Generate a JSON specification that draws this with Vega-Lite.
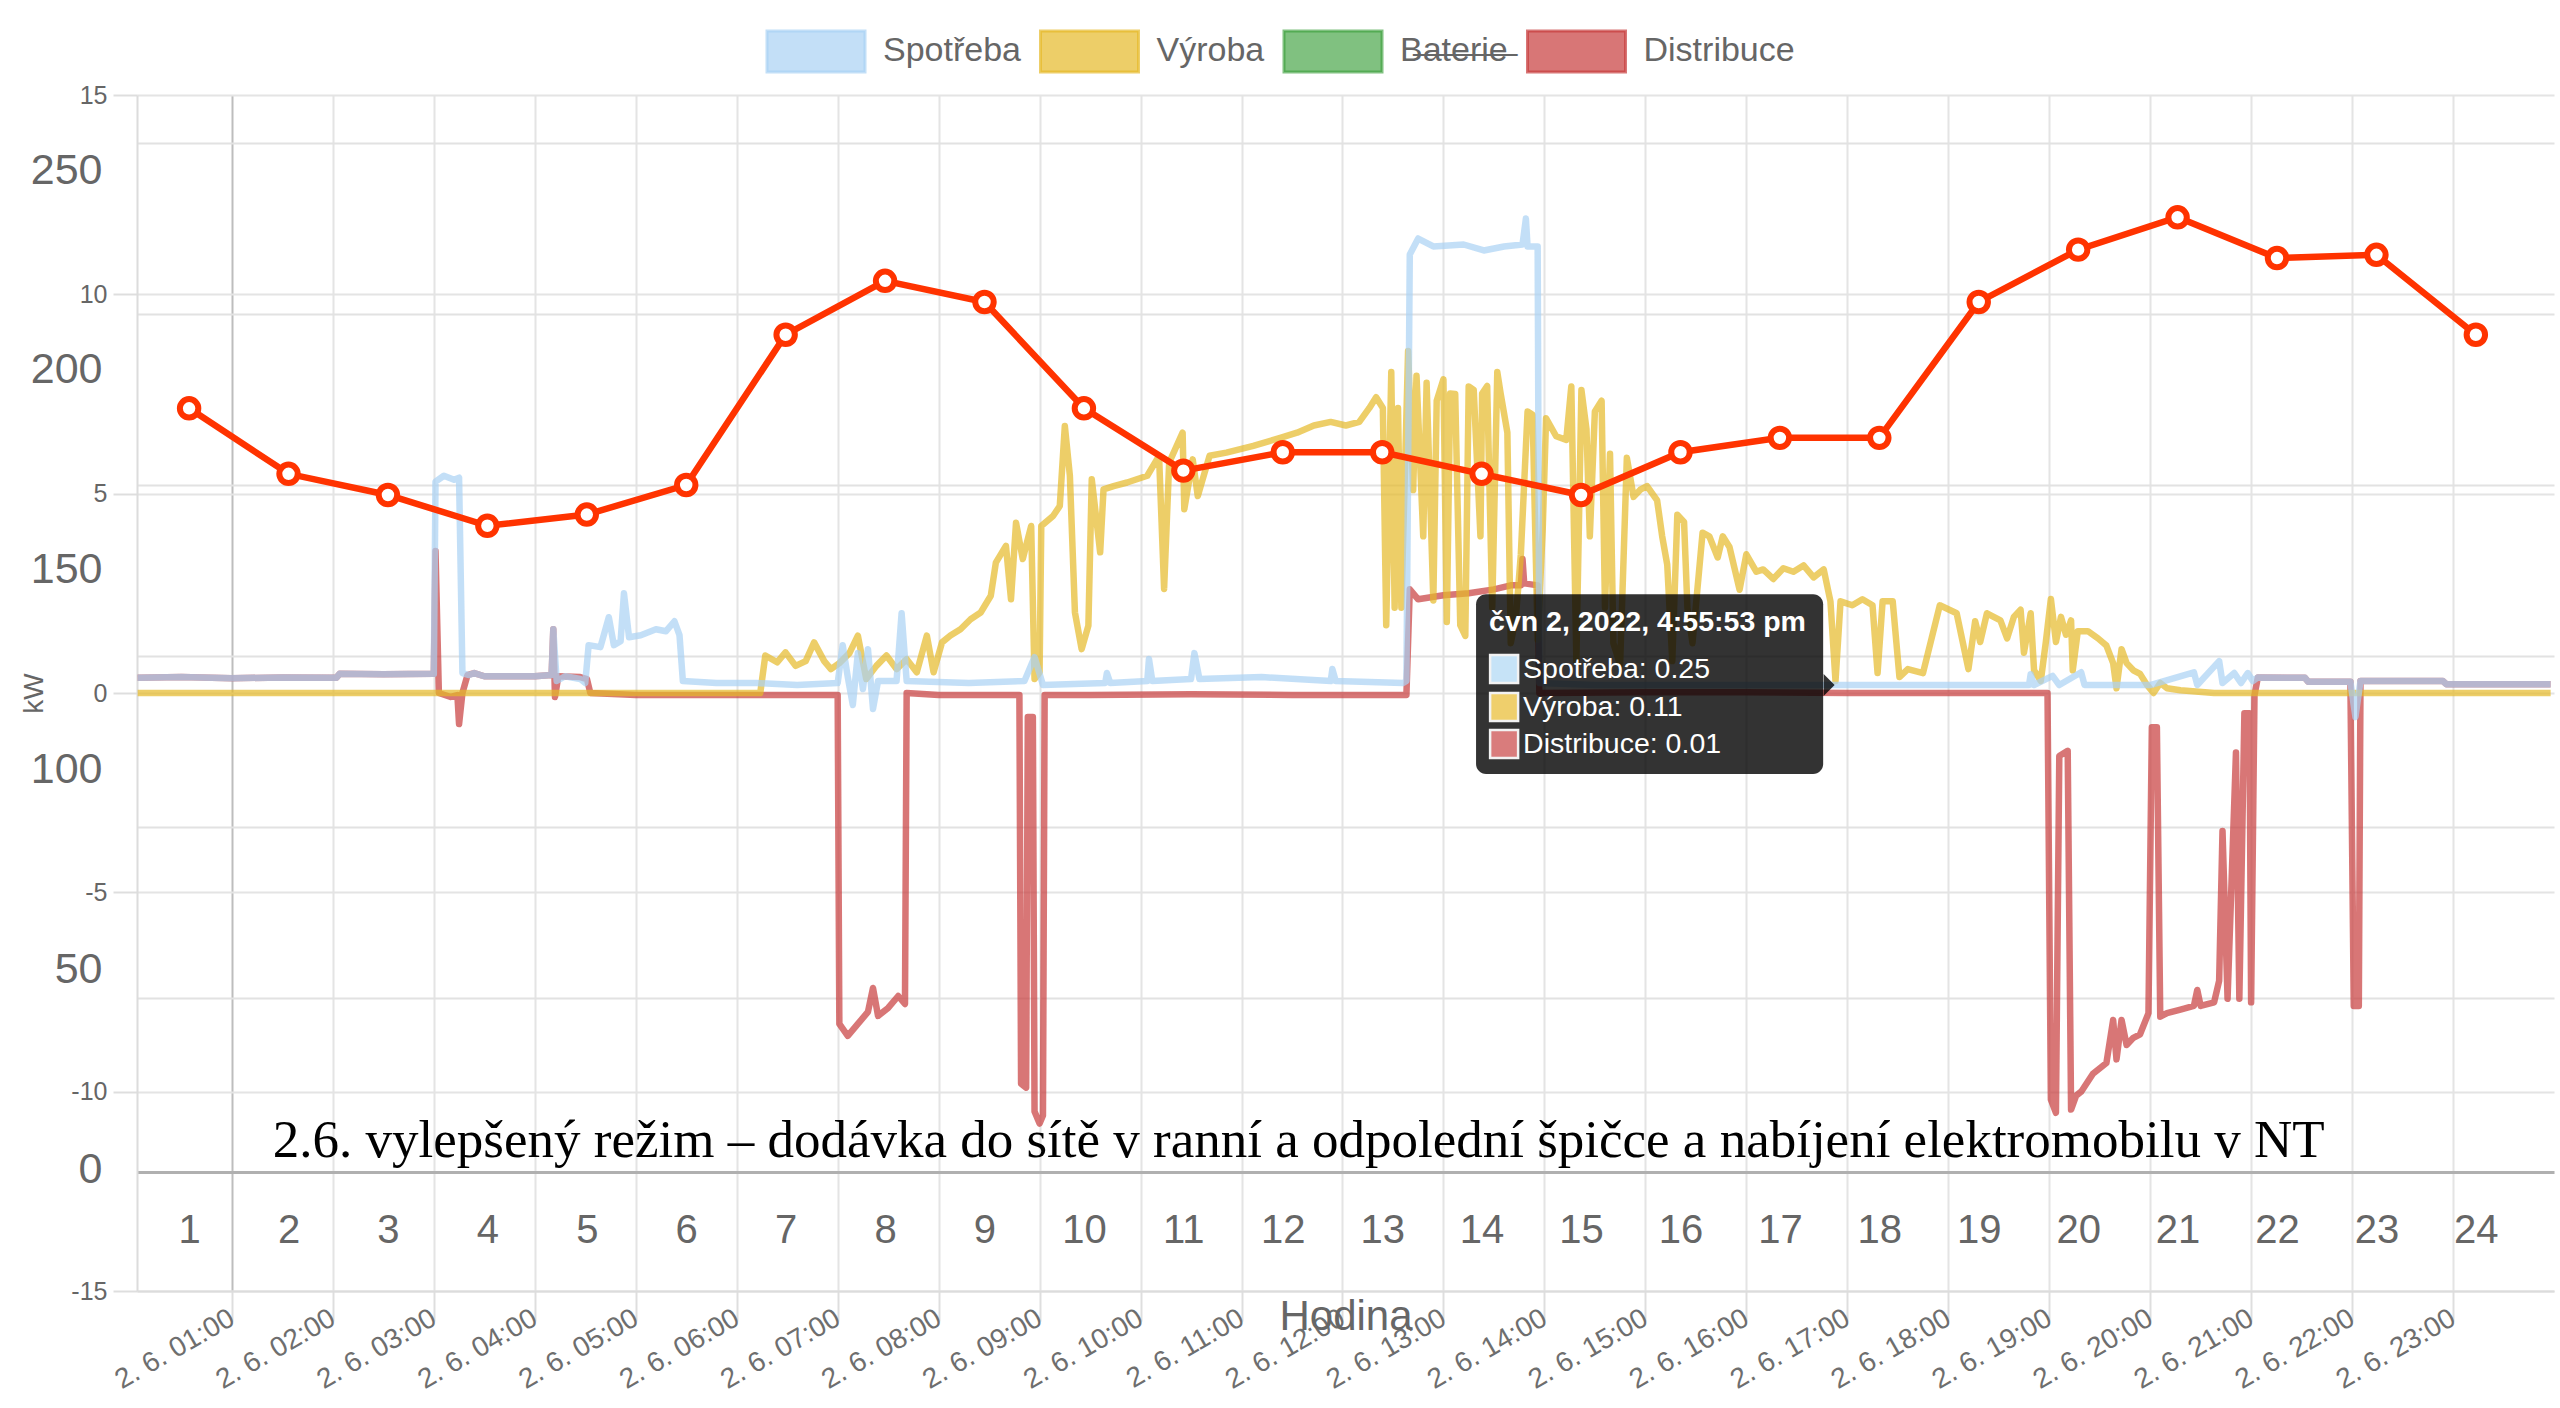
{
  "$schema": "https://vega.github.io/schema/vega-lite/v6.json",
  "width": 2417,
  "height": 1196,
  "autosize": {"type": "none"},
  "padding": {"left": 137, "top": 95, "right": 6, "bottom": 117},
  "background": "white",
  "config": {
    "view": {"stroke": null},
    "font": "Liberation Sans",
    "axis": {"labelFont": "Liberation Sans", "titleFont": "Liberation Sans"},
    "legend": {"labelFont": "Liberation Sans"}
  },
  "datasets": {
    "spotreba": [
      {"t": "2022-06-02T00:04", "kW": 0.38}, {"t": "2022-06-02T00:30", "kW": 0.40}, {"t": "2022-06-02T01:00", "kW": 0.37},
      {"t": "2022-06-02T01:30", "kW": 0.39}, {"t": "2022-06-02T02:02", "kW": 0.38}, {"t": "2022-06-02T02:04", "kW": 0.48},
      {"t": "2022-06-02T02:30", "kW": 0.47}, {"t": "2022-06-02T03:00", "kW": 0.48}, {"t": "2022-06-02T03:01", "kW": 5.3},
      {"t": "2022-06-02T03:06", "kW": 5.45}, {"t": "2022-06-02T03:12", "kW": 5.35}, {"t": "2022-06-02T03:15", "kW": 5.4},
      {"t": "2022-06-02T03:17", "kW": 0.5}, {"t": "2022-06-02T03:21", "kW": 0.45}, {"t": "2022-06-02T03:24", "kW": 0.5},
      {"t": "2022-06-02T03:30", "kW": 0.42}, {"t": "2022-06-02T04:00", "kW": 0.42}, {"t": "2022-06-02T04:10", "kW": 0.45},
      {"t": "2022-06-02T04:11", "kW": 1.6}, {"t": "2022-06-02T04:13", "kW": 0.3}, {"t": "2022-06-02T04:18", "kW": 0.42},
      {"t": "2022-06-02T04:27", "kW": 0.35}, {"t": "2022-06-02T04:30", "kW": 0.25}, {"t": "2022-06-02T04:32", "kW": 1.2},
      {"t": "2022-06-02T04:39", "kW": 1.15}, {"t": "2022-06-02T04:44", "kW": 1.9}, {"t": "2022-06-02T04:47", "kW": 1.2},
      {"t": "2022-06-02T04:51", "kW": 1.3}, {"t": "2022-06-02T04:53", "kW": 2.5}, {"t": "2022-06-02T04:56", "kW": 1.4},
      {"t": "2022-06-02T05:03", "kW": 1.45}, {"t": "2022-06-02T05:12", "kW": 1.6}, {"t": "2022-06-02T05:18", "kW": 1.55},
      {"t": "2022-06-02T05:23", "kW": 1.8}, {"t": "2022-06-02T05:26", "kW": 1.45}, {"t": "2022-06-02T05:28", "kW": 0.3},
      {"t": "2022-06-02T05:48", "kW": 0.25}, {"t": "2022-06-02T06:12", "kW": 0.25}, {"t": "2022-06-02T06:36", "kW": 0.2},
      {"t": "2022-06-02T07:00", "kW": 0.25}, {"t": "2022-06-02T07:03", "kW": 1.2}, {"t": "2022-06-02T07:06", "kW": 0.4},
      {"t": "2022-06-02T07:09", "kW": -0.3}, {"t": "2022-06-02T07:12", "kW": 1.0}, {"t": "2022-06-02T07:15", "kW": 0.1},
      {"t": "2022-06-02T07:18", "kW": 1.1}, {"t": "2022-06-02T07:21", "kW": -0.4}, {"t": "2022-06-02T07:24", "kW": 0.3},
      {"t": "2022-06-02T07:35", "kW": 0.3}, {"t": "2022-06-02T07:38", "kW": 2.0}, {"t": "2022-06-02T07:41", "kW": 0.3},
      {"t": "2022-06-02T08:18", "kW": 0.25}, {"t": "2022-06-02T08:51", "kW": 0.3}, {"t": "2022-06-02T08:54", "kW": 0.6},
      {"t": "2022-06-02T08:57", "kW": 0.9}, {"t": "2022-06-02T09:02", "kW": 0.2}, {"t": "2022-06-02T09:39", "kW": 0.25},
      {"t": "2022-06-02T09:40", "kW": 0.5}, {"t": "2022-06-02T09:42", "kW": 0.25}, {"t": "2022-06-02T10:04", "kW": 0.3},
      {"t": "2022-06-02T10:05", "kW": 0.85}, {"t": "2022-06-02T10:07", "kW": 0.3}, {"t": "2022-06-02T10:30", "kW": 0.35},
      {"t": "2022-06-02T10:32", "kW": 1.0}, {"t": "2022-06-02T10:35", "kW": 0.35}, {"t": "2022-06-02T11:12", "kW": 0.4},
      {"t": "2022-06-02T11:53", "kW": 0.3}, {"t": "2022-06-02T11:54", "kW": 0.6}, {"t": "2022-06-02T11:56", "kW": 0.3},
      {"t": "2022-06-02T12:36", "kW": 0.25}, {"t": "2022-06-02T12:38", "kW": 0.3}, {"t": "2022-06-02T12:40", "kW": 11.0},
      {"t": "2022-06-02T12:45", "kW": 11.4}, {"t": "2022-06-02T12:54", "kW": 11.2}, {"t": "2022-06-02T13:12", "kW": 11.25},
      {"t": "2022-06-02T13:24", "kW": 11.1}, {"t": "2022-06-02T13:36", "kW": 11.2}, {"t": "2022-06-02T13:47", "kW": 11.25},
      {"t": "2022-06-02T13:49", "kW": 11.9}, {"t": "2022-06-02T13:50", "kW": 11.2}, {"t": "2022-06-02T13:56", "kW": 11.2},
      {"t": "2022-06-02T13:57", "kW": 0.25}, {"t": "2022-06-02T14:30", "kW": 0.2}, {"t": "2022-06-02T16:00", "kW": 0.2},
      {"t": "2022-06-02T17:00", "kW": 0.2}, {"t": "2022-06-02T18:00", "kW": 0.2}, {"t": "2022-06-02T18:48", "kW": 0.2},
      {"t": "2022-06-02T18:49", "kW": 0.47}, {"t": "2022-06-02T18:51", "kW": 0.2}, {"t": "2022-06-02T19:02", "kW": 0.43},
      {"t": "2022-06-02T19:06", "kW": 0.2}, {"t": "2022-06-02T19:19", "kW": 0.52}, {"t": "2022-06-02T19:21", "kW": 0.2},
      {"t": "2022-06-02T20:00", "kW": 0.2}, {"t": "2022-06-02T20:26", "kW": 0.52}, {"t": "2022-06-02T20:28", "kW": 0.2},
      {"t": "2022-06-02T20:41", "kW": 0.8}, {"t": "2022-06-02T20:43", "kW": 0.25}, {"t": "2022-06-02T20:50", "kW": 0.5},
      {"t": "2022-06-02T20:54", "kW": 0.25}, {"t": "2022-06-02T20:58", "kW": 0.5}, {"t": "2022-06-02T21:01", "kW": 0.3},
      {"t": "2022-06-02T21:04", "kW": 0.39}, {"t": "2022-06-02T21:32", "kW": 0.38}, {"t": "2022-06-02T21:34", "kW": 0.28},
      {"t": "2022-06-02T21:59", "kW": 0.28}, {"t": "2022-06-02T22:02", "kW": -0.6}, {"t": "2022-06-02T22:05", "kW": 0.3},
      {"t": "2022-06-02T22:54", "kW": 0.3}, {"t": "2022-06-02T22:56", "kW": 0.22}, {"t": "2022-06-02T23:58", "kW": 0.22}
    ],
    "distribuce": [
      {"t": "2022-06-02T00:04", "kW": 0.38}, {"t": "2022-06-02T00:30", "kW": 0.40}, {"t": "2022-06-02T01:00", "kW": 0.37},
      {"t": "2022-06-02T01:30", "kW": 0.39}, {"t": "2022-06-02T02:02", "kW": 0.38}, {"t": "2022-06-02T02:04", "kW": 0.48},
      {"t": "2022-06-02T02:30", "kW": 0.47}, {"t": "2022-06-02T03:00", "kW": 0.48}, {"t": "2022-06-02T03:01", "kW": 3.56},
      {"t": "2022-06-02T03:03", "kW": 0.0}, {"t": "2022-06-02T03:10", "kW": -0.1}, {"t": "2022-06-02T03:14", "kW": -0.05},
      {"t": "2022-06-02T03:15", "kW": -0.78}, {"t": "2022-06-02T03:17", "kW": 0.0}, {"t": "2022-06-02T03:20", "kW": 0.45},
      {"t": "2022-06-02T03:24", "kW": 0.5}, {"t": "2022-06-02T03:30", "kW": 0.42}, {"t": "2022-06-02T04:00", "kW": 0.42},
      {"t": "2022-06-02T04:10", "kW": 0.45}, {"t": "2022-06-02T04:11", "kW": 1.6}, {"t": "2022-06-02T04:12", "kW": -0.1},
      {"t": "2022-06-02T04:14", "kW": 0.42}, {"t": "2022-06-02T04:27", "kW": 0.4}, {"t": "2022-06-02T04:31", "kW": 0.35},
      {"t": "2022-06-02T04:33", "kW": 0.0}, {"t": "2022-06-02T05:00", "kW": -0.05}, {"t": "2022-06-02T06:00", "kW": -0.05},
      {"t": "2022-06-02T07:00", "kW": -0.05}, {"t": "2022-06-02T07:01", "kW": -8.3}, {"t": "2022-06-02T07:06", "kW": -8.6},
      {"t": "2022-06-02T07:12", "kW": -8.3}, {"t": "2022-06-02T07:18", "kW": -8.0}, {"t": "2022-06-02T07:21", "kW": -7.4},
      {"t": "2022-06-02T07:24", "kW": -8.1}, {"t": "2022-06-02T07:30", "kW": -7.9}, {"t": "2022-06-02T07:36", "kW": -7.6},
      {"t": "2022-06-02T07:40", "kW": -7.8}, {"t": "2022-06-02T07:41", "kW": 0.0}, {"t": "2022-06-02T08:00", "kW": -0.05},
      {"t": "2022-06-02T08:48", "kW": -0.05}, {"t": "2022-06-02T08:49", "kW": -9.8}, {"t": "2022-06-02T08:52", "kW": -9.9},
      {"t": "2022-06-02T08:53", "kW": -0.6}, {"t": "2022-06-02T08:56", "kW": -0.6}, {"t": "2022-06-02T08:57", "kW": -10.5},
      {"t": "2022-06-02T09:00", "kW": -10.8}, {"t": "2022-06-02T09:02", "kW": -10.6}, {"t": "2022-06-02T09:03", "kW": -0.05},
      {"t": "2022-06-02T09:30", "kW": -0.05}, {"t": "2022-06-02T10:30", "kW": -0.03}, {"t": "2022-06-02T11:30", "kW": -0.05},
      {"t": "2022-06-02T12:38", "kW": -0.05}, {"t": "2022-06-02T12:40", "kW": 2.6}, {"t": "2022-06-02T12:45", "kW": 2.35},
      {"t": "2022-06-02T13:00", "kW": 2.45}, {"t": "2022-06-02T13:15", "kW": 2.5}, {"t": "2022-06-02T13:30", "kW": 2.6},
      {"t": "2022-06-02T13:40", "kW": 2.7}, {"t": "2022-06-02T13:46", "kW": 2.7}, {"t": "2022-06-02T13:47", "kW": 3.36},
      {"t": "2022-06-02T13:48", "kW": 2.75}, {"t": "2022-06-02T13:56", "kW": 2.7}, {"t": "2022-06-02T13:57", "kW": 0.0},
      {"t": "2022-06-02T15:00", "kW": 0.02}, {"t": "2022-06-02T16:00", "kW": 0.02}, {"t": "2022-06-02T17:00", "kW": 0.0},
      {"t": "2022-06-02T18:00", "kW": 0.0}, {"t": "2022-06-02T18:59", "kW": 0.0}, {"t": "2022-06-02T19:01", "kW": -10.2},
      {"t": "2022-06-02T19:04", "kW": -10.53}, {"t": "2022-06-02T19:06", "kW": -1.58}, {"t": "2022-06-02T19:11", "kW": -1.45},
      {"t": "2022-06-02T19:13", "kW": -10.45}, {"t": "2022-06-02T19:16", "kW": -10.1}, {"t": "2022-06-02T19:19", "kW": -10.0},
      {"t": "2022-06-02T19:26", "kW": -9.55}, {"t": "2022-06-02T19:34", "kW": -9.28}, {"t": "2022-06-02T19:38", "kW": -8.2},
      {"t": "2022-06-02T19:40", "kW": -9.19}, {"t": "2022-06-02T19:43", "kW": -8.2}, {"t": "2022-06-02T19:46", "kW": -8.83},
      {"t": "2022-06-02T19:50", "kW": -8.65}, {"t": "2022-06-02T19:54", "kW": -8.56}, {"t": "2022-06-02T19:59", "kW": -8.03},
      {"t": "2022-06-02T20:01", "kW": -0.86}, {"t": "2022-06-02T20:04", "kW": -0.86}, {"t": "2022-06-02T20:06", "kW": -8.12},
      {"t": "2022-06-02T20:10", "kW": -8.03}, {"t": "2022-06-02T20:18", "kW": -7.94}, {"t": "2022-06-02T20:26", "kW": -7.85},
      {"t": "2022-06-02T20:28", "kW": -7.45}, {"t": "2022-06-02T20:30", "kW": -7.85}, {"t": "2022-06-02T20:38", "kW": -7.76},
      {"t": "2022-06-02T20:41", "kW": -7.22}, {"t": "2022-06-02T20:43", "kW": -3.46}, {"t": "2022-06-02T20:46", "kW": -7.67},
      {"t": "2022-06-02T20:51", "kW": -1.49}, {"t": "2022-06-02T20:53", "kW": -7.67}, {"t": "2022-06-02T20:56", "kW": -0.51},
      {"t": "2022-06-02T20:59", "kW": -0.51}, {"t": "2022-06-02T21:00", "kW": -7.76}, {"t": "2022-06-02T21:02", "kW": -0.06},
      {"t": "2022-06-02T21:04", "kW": 0.39}, {"t": "2022-06-02T21:32", "kW": 0.38}, {"t": "2022-06-02T21:34", "kW": 0.28},
      {"t": "2022-06-02T21:59", "kW": 0.28}, {"t": "2022-06-02T22:01", "kW": -7.85}, {"t": "2022-06-02T22:04", "kW": -7.85},
      {"t": "2022-06-02T22:05", "kW": 0.3}, {"t": "2022-06-02T22:54", "kW": 0.3}, {"t": "2022-06-02T22:56", "kW": 0.22},
      {"t": "2022-06-02T23:58", "kW": 0.22}
    ],
    "vyroba": [
      {"t": "2022-06-02T00:04", "kW": 0}, {"t": "2022-06-02T06:14", "kW": 0}, {"t": "2022-06-02T06:17", "kW": 0.94},
      {"t": "2022-06-02T06:24", "kW": 0.77}, {"t": "2022-06-02T06:29", "kW": 1.02}, {"t": "2022-06-02T06:35", "kW": 0.68},
      {"t": "2022-06-02T06:41", "kW": 0.8}, {"t": "2022-06-02T06:46", "kW": 1.27}, {"t": "2022-06-02T06:52", "kW": 0.8},
      {"t": "2022-06-02T06:56", "kW": 0.6}, {"t": "2022-06-02T07:01", "kW": 0.75}, {"t": "2022-06-02T07:07", "kW": 1.0},
      {"t": "2022-06-02T07:12", "kW": 1.44}, {"t": "2022-06-02T07:17", "kW": 0.35}, {"t": "2022-06-02T07:23", "kW": 0.68},
      {"t": "2022-06-02T07:29", "kW": 0.94}, {"t": "2022-06-02T07:35", "kW": 0.6}, {"t": "2022-06-02T07:41", "kW": 0.85},
      {"t": "2022-06-02T07:47", "kW": 0.52}, {"t": "2022-06-02T07:53", "kW": 1.44}, {"t": "2022-06-02T07:57", "kW": 0.52},
      {"t": "2022-06-02T08:02", "kW": 1.27}, {"t": "2022-06-02T08:07", "kW": 1.44}, {"t": "2022-06-02T08:13", "kW": 1.6},
      {"t": "2022-06-02T08:19", "kW": 1.85}, {"t": "2022-06-02T08:25", "kW": 2.02}, {"t": "2022-06-02T08:31", "kW": 2.44},
      {"t": "2022-06-02T08:34", "kW": 3.27}, {"t": "2022-06-02T08:40", "kW": 3.69}, {"t": "2022-06-02T08:43", "kW": 2.35},
      {"t": "2022-06-02T08:46", "kW": 4.27}, {"t": "2022-06-02T08:50", "kW": 3.36}, {"t": "2022-06-02T08:53", "kW": 3.86},
      {"t": "2022-06-02T08:55", "kW": 4.19}, {"t": "2022-06-02T08:57", "kW": 0.35}, {"t": "2022-06-02T09:00", "kW": 0.52},
      {"t": "2022-06-02T09:01", "kW": 4.19}, {"t": "2022-06-02T09:08", "kW": 4.44}, {"t": "2022-06-02T09:12", "kW": 4.69},
      {"t": "2022-06-02T09:15", "kW": 6.7}, {"t": "2022-06-02T09:18", "kW": 5.45}, {"t": "2022-06-02T09:21", "kW": 2.02},
      {"t": "2022-06-02T09:25", "kW": 1.1}, {"t": "2022-06-02T09:29", "kW": 1.69}, {"t": "2022-06-02T09:31", "kW": 5.36},
      {"t": "2022-06-02T09:36", "kW": 3.53}, {"t": "2022-06-02T09:38", "kW": 5.11}, {"t": "2022-06-02T09:44", "kW": 5.19},
      {"t": "2022-06-02T09:52", "kW": 5.28}, {"t": "2022-06-02T10:04", "kW": 5.45}, {"t": "2022-06-02T10:11", "kW": 5.95},
      {"t": "2022-06-02T10:14", "kW": 2.61}, {"t": "2022-06-02T10:17", "kW": 5.78}, {"t": "2022-06-02T10:25", "kW": 6.53},
      {"t": "2022-06-02T10:26", "kW": 4.61}, {"t": "2022-06-02T10:31", "kW": 5.86}, {"t": "2022-06-02T10:34", "kW": 4.94},
      {"t": "2022-06-02T10:41", "kW": 5.95}, {"t": "2022-06-02T10:51", "kW": 6.03}, {"t": "2022-06-02T11:07", "kW": 6.2},
      {"t": "2022-06-02T11:23", "kW": 6.4}, {"t": "2022-06-02T11:33", "kW": 6.53}, {"t": "2022-06-02T11:43", "kW": 6.71},
      {"t": "2022-06-02T11:53", "kW": 6.8}, {"t": "2022-06-02T12:02", "kW": 6.71}, {"t": "2022-06-02T12:10", "kW": 6.8},
      {"t": "2022-06-02T12:16", "kW": 7.15}, {"t": "2022-06-02T12:20", "kW": 7.42}, {"t": "2022-06-02T12:24", "kW": 7.15},
      {"t": "2022-06-02T12:26", "kW": 1.7}, {"t": "2022-06-02T12:29", "kW": 8.05}, {"t": "2022-06-02T12:31", "kW": 2.14},
      {"t": "2022-06-02T12:33", "kW": 7.15}, {"t": "2022-06-02T12:35", "kW": 2.14}, {"t": "2022-06-02T12:39", "kW": 8.58},
      {"t": "2022-06-02T12:42", "kW": 5.09}, {"t": "2022-06-02T12:44", "kW": 7.96}, {"t": "2022-06-02T12:48", "kW": 3.93},
      {"t": "2022-06-02T12:50", "kW": 7.78}, {"t": "2022-06-02T12:54", "kW": 2.32}, {"t": "2022-06-02T12:56", "kW": 7.33},
      {"t": "2022-06-02T13:00", "kW": 7.87}, {"t": "2022-06-02T13:02", "kW": 1.78}, {"t": "2022-06-02T13:04", "kW": 7.51},
      {"t": "2022-06-02T13:07", "kW": 7.5}, {"t": "2022-06-02T13:10", "kW": 1.7}, {"t": "2022-06-02T13:13", "kW": 1.43},
      {"t": "2022-06-02T13:15", "kW": 7.69}, {"t": "2022-06-02T13:18", "kW": 7.6}, {"t": "2022-06-02T13:22", "kW": 3.93},
      {"t": "2022-06-02T13:23", "kW": 7.51}, {"t": "2022-06-02T13:26", "kW": 7.7}, {"t": "2022-06-02T13:29", "kW": 2.14},
      {"t": "2022-06-02T13:32", "kW": 8.05}, {"t": "2022-06-02T13:34", "kW": 7.51}, {"t": "2022-06-02T13:38", "kW": 6.53},
      {"t": "2022-06-02T13:40", "kW": 1.25}, {"t": "2022-06-02T13:43", "kW": 1.87}, {"t": "2022-06-02T13:46", "kW": 3.48},
      {"t": "2022-06-02T13:50", "kW": 7.06}, {"t": "2022-06-02T13:53", "kW": 6.98}, {"t": "2022-06-02T13:56", "kW": 1.34},
      {"t": "2022-06-02T13:59", "kW": 4.11}, {"t": "2022-06-02T14:01", "kW": 6.89}, {"t": "2022-06-02T14:07", "kW": 6.44},
      {"t": "2022-06-02T14:13", "kW": 6.35}, {"t": "2022-06-02T14:16", "kW": 7.69}, {"t": "2022-06-02T14:19", "kW": 0.8},
      {"t": "2022-06-02T14:22", "kW": 7.6}, {"t": "2022-06-02T14:25", "kW": 6.62}, {"t": "2022-06-02T14:27", "kW": 3.93},
      {"t": "2022-06-02T14:30", "kW": 7.06}, {"t": "2022-06-02T14:34", "kW": 7.33}, {"t": "2022-06-02T14:36", "kW": 2.14},
      {"t": "2022-06-02T14:39", "kW": 6.0}, {"t": "2022-06-02T14:41", "kW": 1.25}, {"t": "2022-06-02T14:45", "kW": 0.71},
      {"t": "2022-06-02T14:49", "kW": 5.9}, {"t": "2022-06-02T14:53", "kW": 4.92}, {"t": "2022-06-02T14:57", "kW": 5.1},
      {"t": "2022-06-02T15:01", "kW": 5.19}, {"t": "2022-06-02T15:07", "kW": 4.83}, {"t": "2022-06-02T15:10", "kW": 3.93},
      {"t": "2022-06-02T15:13", "kW": 3.22}, {"t": "2022-06-02T15:16", "kW": 0.8}, {"t": "2022-06-02T15:19", "kW": 4.47},
      {"t": "2022-06-02T15:23", "kW": 4.29}, {"t": "2022-06-02T15:25", "kW": 2.14}, {"t": "2022-06-02T15:28", "kW": 1.25},
      {"t": "2022-06-02T15:34", "kW": 4.02}, {"t": "2022-06-02T15:38", "kW": 3.93}, {"t": "2022-06-02T15:43", "kW": 3.4},
      {"t": "2022-06-02T15:46", "kW": 3.93}, {"t": "2022-06-02T15:50", "kW": 3.66}, {"t": "2022-06-02T15:56", "kW": 2.59},
      {"t": "2022-06-02T16:00", "kW": 3.48}, {"t": "2022-06-02T16:06", "kW": 3.04}, {"t": "2022-06-02T16:10", "kW": 3.1},
      {"t": "2022-06-02T16:16", "kW": 2.86}, {"t": "2022-06-02T16:22", "kW": 3.13}, {"t": "2022-06-02T16:28", "kW": 3.04},
      {"t": "2022-06-02T16:34", "kW": 3.2}, {"t": "2022-06-02T16:40", "kW": 2.9}, {"t": "2022-06-02T16:46", "kW": 3.1},
      {"t": "2022-06-02T16:50", "kW": 2.3}, {"t": "2022-06-02T16:53", "kW": 0.3}, {"t": "2022-06-02T16:56", "kW": 2.3},
      {"t": "2022-06-02T17:03", "kW": 2.2}, {"t": "2022-06-02T17:09", "kW": 2.35}, {"t": "2022-06-02T17:15", "kW": 2.2},
      {"t": "2022-06-02T17:18", "kW": 0.5}, {"t": "2022-06-02T17:21", "kW": 2.3}, {"t": "2022-06-02T17:27", "kW": 2.3},
      {"t": "2022-06-02T17:31", "kW": 0.4}, {"t": "2022-06-02T17:36", "kW": 0.6}, {"t": "2022-06-02T17:45", "kW": 0.5},
      {"t": "2022-06-02T17:55", "kW": 2.2}, {"t": "2022-06-02T18:05", "kW": 2.0}, {"t": "2022-06-02T18:12", "kW": 0.6},
      {"t": "2022-06-02T18:16", "kW": 1.8}, {"t": "2022-06-02T18:19", "kW": 1.28}, {"t": "2022-06-02T18:23", "kW": 2.0},
      {"t": "2022-06-02T18:31", "kW": 1.82}, {"t": "2022-06-02T18:35", "kW": 1.37}, {"t": "2022-06-02T18:39", "kW": 1.91},
      {"t": "2022-06-02T18:43", "kW": 2.09}, {"t": "2022-06-02T18:45", "kW": 1.01}, {"t": "2022-06-02T18:49", "kW": 2.0},
      {"t": "2022-06-02T18:51", "kW": 0.57}, {"t": "2022-06-02T18:55", "kW": 0.3}, {"t": "2022-06-02T18:58", "kW": 1.28},
      {"t": "2022-06-02T19:01", "kW": 2.36}, {"t": "2022-06-02T19:04", "kW": 1.28}, {"t": "2022-06-02T19:07", "kW": 1.91},
      {"t": "2022-06-02T19:10", "kW": 1.46}, {"t": "2022-06-02T19:13", "kW": 1.82}, {"t": "2022-06-02T19:14", "kW": 0.57},
      {"t": "2022-06-02T19:17", "kW": 1.55}, {"t": "2022-06-02T19:23", "kW": 1.55}, {"t": "2022-06-02T19:29", "kW": 1.37},
      {"t": "2022-06-02T19:34", "kW": 1.19}, {"t": "2022-06-02T19:38", "kW": 0.75}, {"t": "2022-06-02T19:40", "kW": 0.12},
      {"t": "2022-06-02T19:43", "kW": 1.1}, {"t": "2022-06-02T19:46", "kW": 0.75}, {"t": "2022-06-02T19:50", "kW": 0.57},
      {"t": "2022-06-02T19:54", "kW": 0.48}, {"t": "2022-06-02T19:58", "kW": 0.21}, {"t": "2022-06-02T20:02", "kW": 0.0},
      {"t": "2022-06-02T20:06", "kW": 0.25}, {"t": "2022-06-02T20:10", "kW": 0.12}, {"t": "2022-06-02T20:18", "kW": 0.07},
      {"t": "2022-06-02T20:38", "kW": 0.0}, {"t": "2022-06-02T23:58", "kW": 0.0}
    ],
    "cena": [
      {"Hodina": 1, "cena": 190.4}, {"Hodina": 2, "cena": 174.0}, {"Hodina": 3, "cena": 168.7}, {"Hodina": 4, "cena": 161.0},
      {"Hodina": 5, "cena": 163.8}, {"Hodina": 6, "cena": 171.2}, {"Hodina": 7, "cena": 208.8}, {"Hodina": 8, "cena": 222.3},
      {"Hodina": 9, "cena": 217.0}, {"Hodina": 10, "cena": 190.4}, {"Hodina": 11, "cena": 174.8}, {"Hodina": 12, "cena": 179.4},
      {"Hodina": 13, "cena": 179.4}, {"Hodina": 14, "cena": 174.0}, {"Hodina": 15, "cena": 168.7}, {"Hodina": 16, "cena": 179.4},
      {"Hodina": 17, "cena": 183.0}, {"Hodina": 18, "cena": 183.0}, {"Hodina": 19, "cena": 217.0}, {"Hodina": 20, "cena": 230.1},
      {"Hodina": 21, "cena": 238.2}, {"Hodina": 22, "cena": 228.0}, {"Hodina": 23, "cena": 228.8}, {"Hodina": 24, "cena": 208.8}
    ]
  },
  "layer": [
    {
      "layer": [
        {
          "data": {"name": "distribuce"},
          "mark": {"type": "line", "strokeWidth": 6.5, "strokeJoin": "round"},
          "encoding": {
            "x": {
              "field": "t", "type": "temporal",
              "scale": {"domain": [{"year": 2022, "month": 6, "date": 2, "hours": 0, "minutes": 3, "seconds": 36}, {"year": 2022, "month": 6, "date": 3, "hours": 0}]},
              "axis": {
                "orient": "bottom",
                "values": [
                  {"year": 2022, "month": 6, "date": 2, "hours": 1}, {"year": 2022, "month": 6, "date": 2, "hours": 2}, {"year": 2022, "month": 6, "date": 2, "hours": 3},
                  {"year": 2022, "month": 6, "date": 2, "hours": 4}, {"year": 2022, "month": 6, "date": 2, "hours": 5}, {"year": 2022, "month": 6, "date": 2, "hours": 6},
                  {"year": 2022, "month": 6, "date": 2, "hours": 7}, {"year": 2022, "month": 6, "date": 2, "hours": 8}, {"year": 2022, "month": 6, "date": 2, "hours": 9},
                  {"year": 2022, "month": 6, "date": 2, "hours": 10}, {"year": 2022, "month": 6, "date": 2, "hours": 11}, {"year": 2022, "month": 6, "date": 2, "hours": 12},
                  {"year": 2022, "month": 6, "date": 2, "hours": 13}, {"year": 2022, "month": 6, "date": 2, "hours": 14}, {"year": 2022, "month": 6, "date": 2, "hours": 15},
                  {"year": 2022, "month": 6, "date": 2, "hours": 16}, {"year": 2022, "month": 6, "date": 2, "hours": 17}, {"year": 2022, "month": 6, "date": 2, "hours": 18},
                  {"year": 2022, "month": 6, "date": 2, "hours": 19}, {"year": 2022, "month": 6, "date": 2, "hours": 20}, {"year": 2022, "month": 6, "date": 2, "hours": 21},
                  {"year": 2022, "month": 6, "date": 2, "hours": 22}, {"year": 2022, "month": 6, "date": 2, "hours": 23}
                ],
                "format": "%-d. %-m. %H:%M",
                "labelAngle": -30, "labelAlign": "right", "labelBaseline": "middle", "labelPadding": -5,
                "labelFontSize": 28, "labelColor": "#6e6e6e",
                "labelOverlap": false, "labelFlush": false, "labelBound": false,
                "tickSize": 30, "tickColor": "#dedede", "tickWidth": 2,
                "grid": true,
                "gridColor": {"condition": {"test": "hours(datum.value) == 1", "value": "#bdbdbd"}, "value": "#e4e4e4"},
                "gridWidth": 2,
                "domainColor": "#dcdcdc", "domainWidth": 2,
                "title": null
              }
            },
            "y": {
              "field": "kW", "type": "quantitative",
              "scale": {"domain": [-15, 15], "nice": false, "zero": false},
              "axis": {
                "orient": "left",
                "values": [-15, -10, -5, 0, 5, 10, 15],
                "labelExpr": "toString(datum.value)",
                "labelFontSize": 25, "labelColor": "#666666", "labelPadding": 6,
                "tickSize": 24, "tickColor": "#dedede", "tickWidth": 2,
                "grid": true, "gridColor": "#e4e4e4", "gridWidth": 2,
                "domainColor": "#dcdcdc", "domainWidth": 2,
                "title": "kW", "titleFontSize": 28, "titleFontWeight": "normal", "titleColor": "#666666", "titlePadding": 22
              }
            },
            "color": {
              "datum": "Distribuce", "type": "nominal",
              "scale": {
                "domain": ["Spotřeba", "Výroba", "Baterie", "Distribuce"],
                "range": ["rgba(170,210,243,0.7)", "rgba(230,185,40,0.7)", "rgba(60,160,60,0.65)", "rgba(200,60,60,0.7)"]
              },
              "legend": {
                "orient": "none", "legendX": 628.5, "legendY": -94.5,
                "direction": "horizontal", "columns": 4, "title": null, "padding": 0,
                "symbolType": "M-1,-0.42H1V0.42H-1Z", "symbolSize": 9604, "symbolStrokeWidth": 3, "symbolOpacity": 1,
                "labelFontSize": 34, "labelColor": "#666666", "labelOffset": 16.5, "columnPadding": 12.5,
                "labelExpr": "datum.label === 'Baterie' ? 'B̶a̶t̶e̶r̶i̶e̶' : datum.label",
                "encode": {"symbols": {"update": {"fill": {"scale": "color", "field": "value"}, "fillOpacity": {"value": 1}}}}
              }
            }
          }
        },
        {
          "data": {"name": "vyroba"},
          "mark": {"type": "line", "strokeWidth": 6.5, "strokeJoin": "round"},
          "encoding": {
            "x": {"field": "t", "type": "temporal"},
            "y": {"field": "kW", "type": "quantitative"},
            "color": {"datum": "Výroba", "type": "nominal"}
          }
        },
        {
          "data": {"name": "spotreba"},
          "mark": {"type": "line", "strokeWidth": 6.5, "strokeJoin": "round"},
          "encoding": {
            "x": {"field": "t", "type": "temporal"},
            "y": {"field": "kW", "type": "quantitative"},
            "color": {"datum": "Spotřeba", "type": "nominal"}
          }
        },
        {
          "data": {"values": [{}]},
          "mark": {"type": "text", "font": "Liberation Serif", "fontSize": 53, "color": "#000000", "align": "center", "baseline": "alphabetic"},
          "encoding": {
            "x": {"datum": {"year": 2022, "month": 6, "date": 2, "hours": 11, "minutes": 34}, "type": "temporal"},
            "y": {"datum": -11.65, "type": "quantitative"},
            "text": {"value": "2.6. vylepšený režim – dodávka do sítě v ranní a odpolední špičce a nabíjení elektromobilu v NT"}
          }
        },
        {
          "data": {"values": [{}]},
          "mark": {"type": "rect", "fill": "#000000", "fillOpacity": 0.8, "cornerRadius": 10},
          "encoding": {
            "x": {"datum": {"year": 2022, "month": 6, "date": 2, "hours": 13, "minutes": 19, "seconds": 23}, "type": "temporal"},
            "x2": {"datum": {"year": 2022, "month": 6, "date": 2, "hours": 16, "minutes": 45, "seconds": 40}},
            "y": {"datum": 2.48, "type": "quantitative"},
            "y2": {"datum": -2.03}
          }
        },
        {
          "data": {"values": [{}]},
          "mark": {"type": "point", "shape": "M-0.5,-1L0.5,0L-0.5,1Z", "filled": true, "color": "#000000", "opacity": 0.8, "size": 484},
          "encoding": {
            "x": {"datum": {"year": 2022, "month": 6, "date": 2, "hours": 16, "minutes": 49, "seconds": 12}, "type": "temporal"},
            "y": {"datum": 0.2, "type": "quantitative"}
          }
        },
        {
          "data": {"values": [{}]},
          "mark": {"type": "text", "fontSize": 28.5, "fontWeight": "bold", "color": "#ffffff", "align": "left", "baseline": "middle"},
          "encoding": {
            "x": {"datum": {"year": 2022, "month": 6, "date": 2, "hours": 13, "minutes": 27, "seconds": 7}, "type": "temporal"},
            "y": {"datum": 1.78, "type": "quantitative"},
            "text": {"value": "čvn 2, 2022, 4:55:53 pm"}
          }
        },
        {
          "data": {"values": [{}]},
          "mark": {"type": "text", "fontSize": 28.5, "color": "#ffffff", "align": "left", "baseline": "middle"},
          "encoding": {
            "x": {"datum": {"year": 2022, "month": 6, "date": 2, "hours": 13, "minutes": 47, "seconds": 20}, "type": "temporal"},
            "y": {"datum": 0.6, "type": "quantitative"},
            "text": {"value": "Spotřeba: 0.25"}
          }
        },
        {
          "data": {"values": [{}]},
          "mark": {"type": "text", "fontSize": 28.5, "color": "#ffffff", "align": "left", "baseline": "middle"},
          "encoding": {
            "x": {"datum": {"year": 2022, "month": 6, "date": 2, "hours": 13, "minutes": 47, "seconds": 20}, "type": "temporal"},
            "y": {"datum": -0.35, "type": "quantitative"},
            "text": {"value": "Výroba: 0.11"}
          }
        },
        {
          "data": {"values": [{}]},
          "mark": {"type": "text", "fontSize": 28.5, "color": "#ffffff", "align": "left", "baseline": "middle"},
          "encoding": {
            "x": {"datum": {"year": 2022, "month": 6, "date": 2, "hours": 13, "minutes": 47, "seconds": 20}, "type": "temporal"},
            "y": {"datum": -1.28, "type": "quantitative"},
            "text": {"value": "Distribuce: 0.01"}
          }
        },
        {
          "data": {"values": [{}]},
          "mark": {"type": "point", "shape": "square", "filled": true, "fill": "#c6e3f7", "stroke": "#f2f2f2", "strokeWidth": 2.5, "opacity": 1, "size": 784},
          "encoding": {
            "x": {"datum": {"year": 2022, "month": 6, "date": 2, "hours": 13, "minutes": 36, "seconds": 4}, "type": "temporal"},
            "y": {"datum": 0.6, "type": "quantitative"}
          }
        },
        {
          "data": {"values": [{}]},
          "mark": {"type": "point", "shape": "square", "filled": true, "fill": "#efcf6c", "stroke": "#f2f2f2", "strokeWidth": 2.5, "opacity": 1, "size": 784},
          "encoding": {
            "x": {"datum": {"year": 2022, "month": 6, "date": 2, "hours": 13, "minutes": 36, "seconds": 4}, "type": "temporal"},
            "y": {"datum": -0.35, "type": "quantitative"}
          }
        },
        {
          "data": {"values": [{}]},
          "mark": {"type": "point", "shape": "square", "filled": true, "fill": "#d97c7c", "stroke": "#f2f2f2", "strokeWidth": 2.5, "opacity": 1, "size": 784},
          "encoding": {
            "x": {"datum": {"year": 2022, "month": 6, "date": 2, "hours": 13, "minutes": 36, "seconds": 4}, "type": "temporal"},
            "y": {"datum": -1.28, "type": "quantitative"}
          }
        }
      ]
    },
    {
      "data": {"name": "cena"},
      "layer": [
        {
          "mark": {"type": "line", "color": "#ff3300", "strokeWidth": 6.5},
          "encoding": {
            "x": {
              "field": "Hodina", "type": "ordinal",
              "scale": {"type": "point", "padding": 0.655, "align": 0.4},
              "axis": {
                "orient": "bottom", "offset": -119, "labelAngle": 0,
                "labelFontSize": 40, "labelColor": "#666666", "labelPadding": 38,
                "ticks": false, "grid": false,
                "domainColor": "#b0b0b0", "domainWidth": 3,
                "title": "Hodina", "titleFontSize": 42, "titleFontWeight": "normal", "titleColor": "#666666", "titlePadding": 46
              }
            },
            "y": {
              "field": "cena", "type": "quantitative",
              "scale": {"domain": [-30.5, 268.8], "nice": false, "zero": false},
              "axis": {
                "orient": "left", "values": [0, 50, 100, 150, 200, 250],
                "labelFontSize": 43, "labelColor": "#666666", "labelPadding": 35,
                "ticks": false, "domain": false, "grid": false, "title": null
              }
            }
          }
        },
        {
          "mark": {"type": "point", "filled": true, "fill": "#ffffff", "stroke": "#ff3300", "strokeWidth": 6, "size": 340, "opacity": 1},
          "encoding": {
            "x": {"field": "Hodina", "type": "ordinal"},
            "y": {
              "field": "cena", "type": "quantitative",
              "scale": {"domain": [-30.5, 268.8], "nice": false, "zero": false},
              "axis": {
                "orient": "right", "values": [42.8, 85.6, 128.4, 171.2, 214, 256.8],
                "grid": true, "gridColor": "#e2e2e2", "gridWidth": 2,
                "labels": false, "ticks": false, "domain": false, "title": null
              }
            }
          }
        }
      ],
      "resolve": {"axis": {"y": "independent"}}
    }
  ],
  "resolve": {
    "scale": {"x": "independent", "y": "independent"},
    "axis": {"x": "independent", "y": "independent"}
  }
}
